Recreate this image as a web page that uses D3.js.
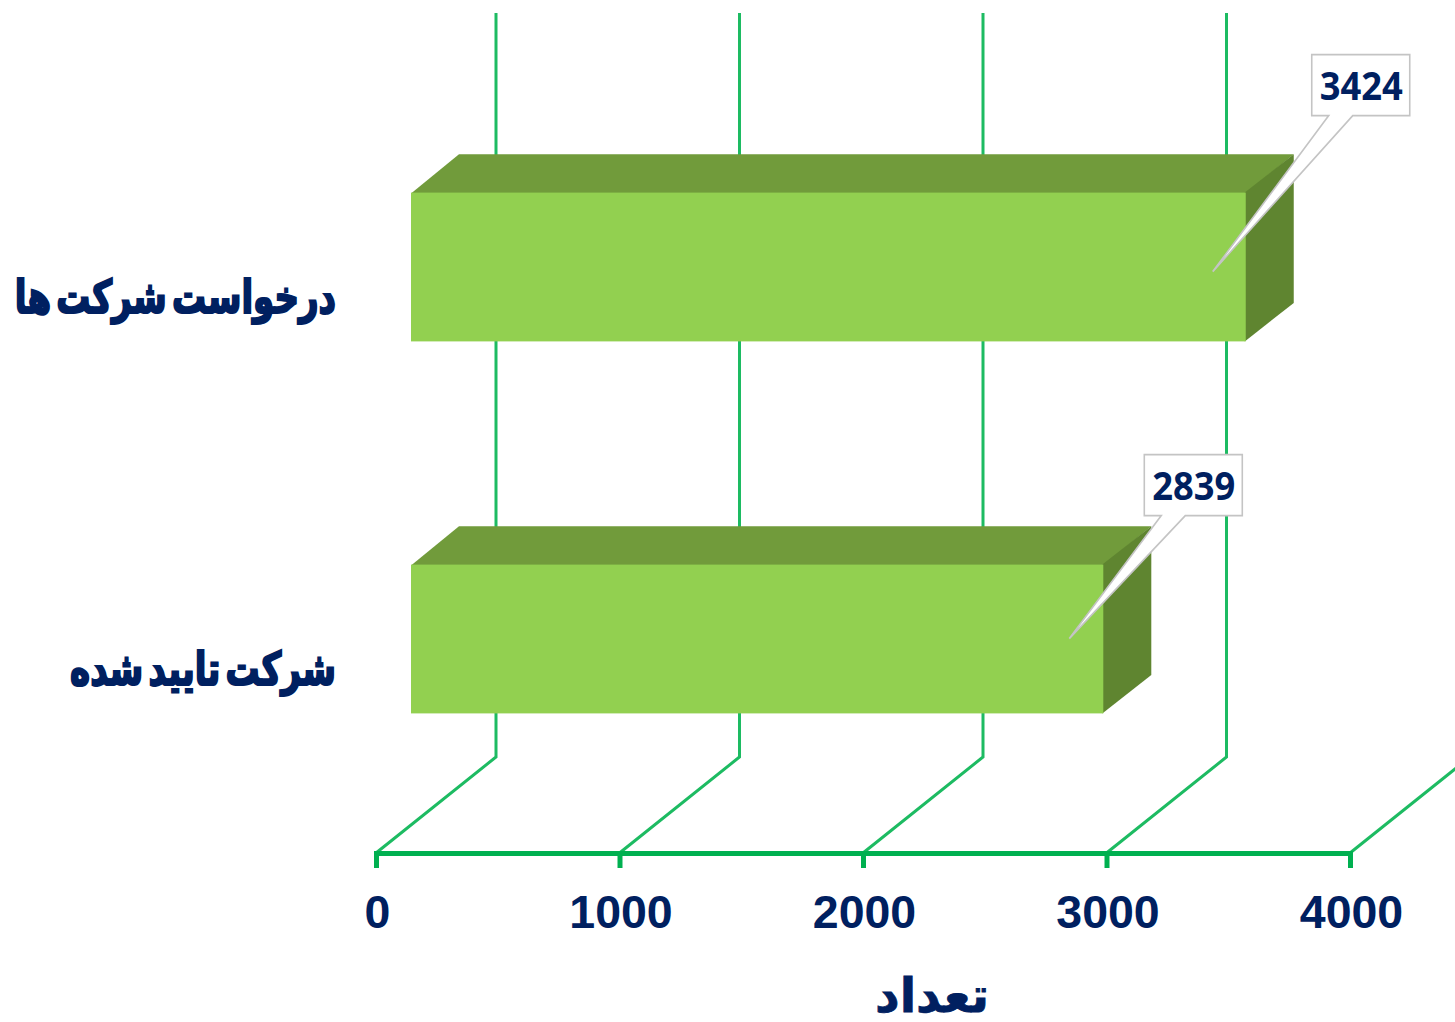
<!DOCTYPE html>
<html><head><meta charset="utf-8">
<script src="https://cdn.jsdelivr.net/npm/d3@7/dist/d3.min.js"></script>
<style>html,body{margin:0;background:#fff}svg{display:block}</style></head>
<body><svg id="c" width="1455" height="1022"></svg>
<script>
const categories = ["درخواست شرکت ها", "شرکت تایید شده"];
const values = [3424, 2839];
const xTicks = [0, 1000, 2000, 3000, 4000];
const axisTitle = "تعداد";

const navy = "#002060", grid = "#00b050";
const svg = d3.select("#c");
const x = d3.scaleLinear().domain([0, 4000]).range([376, 1350]);
const y = d3.scaleBand().domain(categories).range([109, 853]).paddingInner(0.6).paddingOuter(0.3);
const floorY = 853, depthX = 120, depthY = 96;
const nearF = 35 / 120, farF = 83 / 120;
// label box offset from the bar's front top-right corner, and leader tip offset
const calloutBox = [[66, -138], [41, -110]];
const calloutTip = [[-33, 79], [-34, 74]];

// walls
const wall = svg.append("g").attr("fill", "none").attr("stroke", "#1dbb62");
xTicks.forEach(t => {
  const px = x(t);
  wall.append("path").attr("stroke-width", 3)
    .attr("d", d3.line()([[px, floorY], [px + depthX, floorY - depthY], [px + depthX, 13]]));
});

// axis
const axis = d3.axisBottom(x).tickValues(xTicks).tickSizeOuter(0).tickSizeInner(15).tickFormat(d3.format("d"));
const gx = svg.append("g").attr("transform", `translate(0,${floorY})`).call(axis);
gx.select(".domain").attr("stroke", grid).attr("stroke-width", 5);
gx.selectAll(".tick line").attr("stroke", grid).attr("stroke-width", 5).attr("y1", -2);
gx.selectAll(".tick text").attr("fill", navy).attr("y", 42).attr("dy", "0.71em").attr("dx", 1)
  .style("font", "bold 46.5px 'Liberation Sans'");

// bars
const bars = svg.selectAll("g.bar").data(categories).join("g").attr("class", "bar");
bars.each(function (c, i) {
  const g = d3.select(this);
  const h = y.bandwidth();
  const x0 = x(0) + depthX * nearF;
  const w = x(values[i]) - x(0) + 1;
  const yb = y(c) + h - depthY * nearF;
  const yt = yb - h;
  const dx = depthX * (farF - nearF), dy = depthY * (farF - nearF);
  g.append("path").attr("fill", "#719b3b")
    .attr("d", d3.line()([[x0, yt + 1], [x0 + dx, yt - dy], [x0 + w + dx, yt - dy], [x0 + w, yt + 1]]) + "Z");
  g.append("path").attr("fill", "#5f8530")
    .attr("d", d3.line()([[x0 + w - 1, yt], [x0 + w + dx, yt - dy], [x0 + w + dx, yb - dy], [x0 + w - 1, yb]]) + "Z");
  g.append("rect").attr("x", x0).attr("y", yt).attr("width", w).attr("height", h).attr("fill", "#92d050");

  const bx = x0 + w + calloutBox[i][0], by = yt + calloutBox[i][1], bw = 98, bh = 61;
  const tipX = x0 + w + calloutTip[i][0], tipY = yt + calloutTip[i][1];
  g.append("path").attr("fill", "#fff").attr("stroke", "#c4c4c4").attr("stroke-width", 1.6)
    .attr("d", d3.line()([[bx, by], [bx + bw, by], [bx + bw, by + bh], [bx + 41, by + bh],
      [tipX, tipY], [bx + 17, by + bh], [bx, by + bh]]) + "Z");
  g.append("text").attr("x", bx + bw / 2 + 0.5).attr("y", by + bh / 2 + 15).attr("text-anchor", "middle")
    .attr("fill", navy).style("font", "bold 39px 'Open Sans'").attr("textLength", 83).attr("lengthAdjust", "spacingAndGlyphs")
    .text(values[i]);

  // category label: right edge at x=335
  g.append("text").attr("transform", `translate(336,${yb - 28}) scale(0.74,1)`)
    .attr("text-anchor", "start").attr("direction", "rtl")
    .attr("fill", navy).attr("stroke", navy).attr("stroke-width", 2.2)
    .style("font", "bold 46px 'DejaVu Sans'").style("word-spacing", "-9px")
    .text(c);
});

// axis title
svg.append("text").attr("transform", "translate(932,1012)").attr("text-anchor", "middle").attr("direction", "rtl")
  .attr("fill", navy).attr("stroke", navy).attr("stroke-width", 0.8)
  .style("font", "bold 48px 'DejaVu Sans'").text(axisTitle);
</script></body></html>
